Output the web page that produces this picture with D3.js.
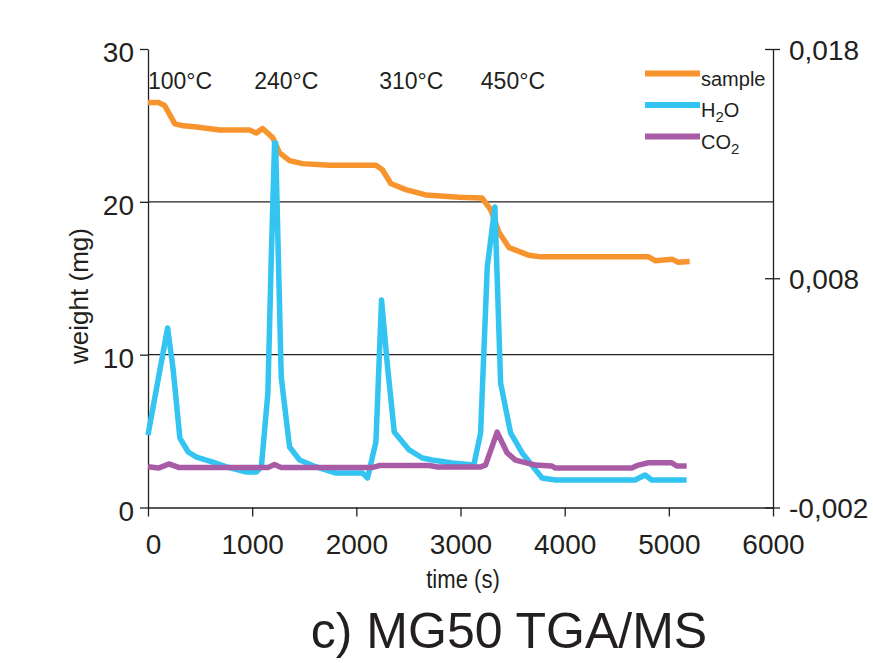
<!DOCTYPE html>
<html>
<head>
<meta charset="utf-8">
<script src="https://cdn.jsdelivr.net/npm/d3@7.9.0/dist/d3.min.js"></script>
<style>
  body { margin: 0; background: #fff; }
  svg text { font-family: "Liberation Sans", Arial, sans-serif; fill: #231f20; }
</style>
</head>
<body>
<svg id="chart" width="873" height="663"></svg>
<script>
// sample weight (mg), left axis
const sampleTime   = [0, 100, 160, 258, 320, 466, 689, 976, 1040, 1100, 1197, 1263, 1359, 1483, 1741, 2188, 2250, 2331, 2475, 2666, 2986, 3206, 3289, 3370, 3467, 3658, 3770, 4805, 4870, 5030, 5090, 5200];
const sampleWeight = [26.5, 26.5, 26.3, 25.1, 25.0, 24.9, 24.7, 24.7, 24.5, 24.8, 24.2, 23.2, 22.7, 22.5, 22.4, 22.4, 22.1, 21.2, 20.8, 20.45, 20.3, 20.25, 19.5, 18.0, 17.0, 16.5, 16.4, 16.4, 16.15, 16.25, 16.05, 16.1];

// MS signals, right axis
const h2oTime   = [0, 188, 242, 306, 386, 466, 622, 753, 944, 1040, 1088, 1151, 1183, 1215, 1225, 1279, 1359, 1455, 1614, 1805, 2060, 2108, 2188, 2242, 2300, 2364, 2507, 2634, 2730, 2921, 3128, 3193, 3257, 3330, 3385, 3481, 3592, 3783, 3910, 4676, 4772, 4836, 5171];
const h2oSignal = [0.00116, 0.00583, 0.0040, 0.00103, 0.00042, 0.0002, -0.00002, -0.00023, -0.00045, -0.00045, -0.00023, 0.00299, 0.0088, 0.0139, 0.0139, 0.00369, 0.00064, 0.00007, -0.00023, -0.0005, -0.0005, -0.00071, 0.00086, 0.00705, 0.00413, 0.00129, 0.00051, 0.00016, 0.00007, -0.00006, -0.00015, 0.00125, 0.00849, 0.01111, 0.00343, 0.00125, 0.00038, -0.00071, -0.0008, -0.0008, -0.00058, -0.0008, -0.0008];

const co2Time   = [0, 100, 200, 300, 1150, 1215, 1280, 2150, 2220, 2700, 2780, 3193, 3240, 3352, 3448, 3528, 3719, 3878, 3910, 4644, 4708, 4804, 5027, 5075, 5171];
const co2Signal = [-0.00022, -0.00028, -0.0001, -0.00026, -0.00026, -0.00012, -0.00026, -0.00026, -0.00017, -0.00017, -0.00023, -0.00023, -0.00015, 0.00129, 0.00038, 0.00007, -0.00015, -0.00019, -0.00028, -0.00028, -0.00015, -0.00005, -0.00005, -0.00019, -0.00019];

const xTicks = [0, 1000, 2000, 3000, 4000, 5000, 6000];
const leftTicks = [0, 10, 20, 30];
const rightTicks = [-0.002, 0.008, 0.018];
const gridValues = [10, 20];

const tempLabels = ['100°C', '240°C', '310°C', '450°C'];
const tempTimes = [0, 1020, 2220, 3195];

const ink = '#231f20';
const colors = { sample: '#f7942d', h2o: '#33c4f2', co2: '#a95ca6' };

const svg = d3.select('#chart');

const x = d3.scaleLinear().domain([0, 6000]).range([148, 773]);
const yL = d3.scaleLinear().domain([0, 30]).range([507.5, 49]);
const yR = d3.scaleLinear().domain([-0.002, 0.018]).range([507.5, 49]);

// grid lines
svg.append('g')
    .selectAll('line')
    .data(gridValues)
    .join('line')
    .attr('x1', x(0)).attr('x2', x(6000))
    .attr('y1', d => yL(d)).attr('y2', d => yL(d))
    .attr('stroke', ink).attr('stroke-width', 1.3);

// axes
const gLeft = svg.append('g')
    .attr('transform', `translate(${x(0)},0)`)
    .call(d3.axisLeft(yL).tickValues(leftTicks).tickSize(8).tickSizeOuter(0).tickPadding(6));

const gBottom = svg.append('g')
    .attr('transform', `translate(0,${yL(0)})`)
    .call(d3.axisBottom(x).tickValues(xTicks).tickSize(9).tickSizeOuter(0).tickPadding(18)
        .tickFormat(d3.format('d')));

const gRight = svg.append('g')
    .attr('transform', `translate(${x(6000)},0)`)
    .call(d3.axisRight(yR).tickValues(rightTicks).tickSize(7).tickSizeOuter(0).tickPadding(9)
        .tickFormat(d => d3.format('.3f')(d).replace('−', '-').replace('.', ',')));

gRight.selectAll('.tick line').attr('x1', -8);

[gLeft, gBottom, gRight].forEach(g => {
    g.select('.domain').attr('stroke', ink).attr('stroke-width', 1.3);
    g.selectAll('.tick line').attr('stroke', ink).attr('stroke-width', 1.3);
    g.selectAll('.tick text')
        .attr('fill', ink)
        .style('font-size', '28px')
        .style('font-family', '"Liberation Sans", Arial, sans-serif');
});
gLeft.selectAll('.tick text').attr('dy', '0.45em');
gRight.selectAll('.tick text').attr('dy', '0.36em');
gBottom.selectAll('.tick text').filter(d => d === 0).attr('x', 5);

// series
const lineL = d3.line().x(d => x(d[0])).y(d => yL(d[1]));
const lineR = d3.line().x(d => x(d[0])).y(d => yR(d[1]));

svg.append('path')
    .datum(d3.zip(sampleTime, sampleWeight))
    .attr('d', lineL)
    .attr('fill', 'none').attr('stroke', colors.sample).attr('stroke-width', 5.5)
    .attr('stroke-linejoin', 'round');

svg.append('path')
    .datum(d3.zip(h2oTime, h2oSignal))
    .attr('d', lineR)
    .attr('fill', 'none').attr('stroke', colors.h2o).attr('stroke-width', 5.5)
    .attr('stroke-linejoin', 'round');

svg.append('path')
    .datum(d3.zip(co2Time, co2Signal))
    .attr('d', lineR)
    .attr('fill', 'none').attr('stroke', colors.co2).attr('stroke-width', 5.5)
    .attr('stroke-linejoin', 'round');

// temperature labels
svg.append('g')
    .selectAll('text')
    .data(d3.zip(tempLabels, tempTimes))
    .join('text')
    .attr('x', d => x(d[1]))
    .attr('y', 89)
    .style('font-size', '23px')
    .text(d => d[0]);

// legend
const legendItems = [
    { key: 'sample', main: 'sample' },
    { key: 'h2o', main: 'H', sub: '2', tail: 'O' },
    { key: 'co2', main: 'CO', sub: '2' }
];
const legend = svg.append('g');
legendItems.forEach((d, i) => {
    const ly = 73.5 + i * 31.5;
    legend.append('line')
        .attr('x1', 645).attr('x2', 700)
        .attr('y1', ly).attr('y2', ly)
        .attr('stroke', colors[d.key]).attr('stroke-width', 6);
    const t = legend.append('text')
        .attr('x', 701).attr('y', ly + 12)
        .style('font-size', '20px');
    t.append('tspan').text(d.main);
    if (d.sub) {
        t.append('tspan').attr('dy', 5).style('font-size', '15px').text(d.sub);
    }
    if (d.tail) {
        t.append('tspan').attr('dy', -5).text(d.tail);
    }
});

// axis titles
svg.append('text')
    .attr('transform', 'translate(88,296) rotate(-90)')
    .attr('text-anchor', 'middle')
    .style('font-size', '26px')
    .text('weight (mg)');

svg.append('text')
    .attr('transform', 'translate(463,588) scale(0.85,1)')
    .attr('text-anchor', 'middle')
    .style('font-size', '26px')
    .text('time (s)');

svg.append('text')
    .attr('x', 509).attr('y', 648)
    .attr('text-anchor', 'middle')
    .style('font-size', '50px')
    .text('c) MG50 TGA/MS');
</script>
</body>
</html>
